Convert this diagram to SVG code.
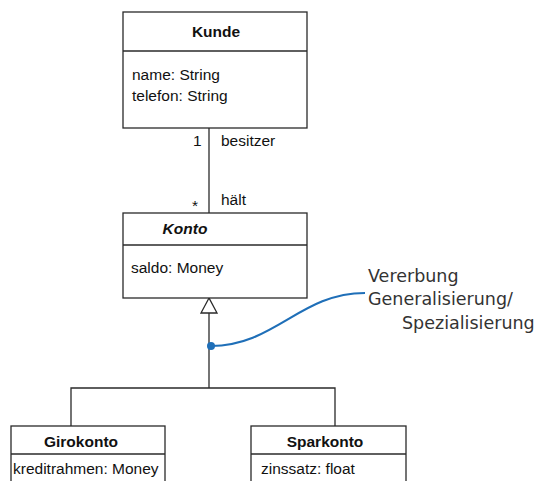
<svg xmlns="http://www.w3.org/2000/svg" width="539" height="481" viewBox="0 0 539 481">
  <style>
    .box { fill: #fff; stroke: #2a2a2a; stroke-width: 1.3; }
    .sep { stroke: #2a2a2a; stroke-width: 1.3; }
    .line { fill: none; stroke: #2a2a2a; stroke-width: 1.3; }
    .title { font-family: "Liberation Sans", Arial, sans-serif; font-size: 15.5px; font-weight: bold; fill: #111; text-anchor: middle; }
    .attr { font-family: "Liberation Sans", Arial, sans-serif; font-size: 15.5px; fill: #111; }
    .role { font-family: "Liberation Sans", Arial, sans-serif; font-size: 15.5px; fill: #111; }
    .note { font-family: "DejaVu Sans", sans-serif; font-size: 17.5px; fill: #333; }
  </style>

  <rect width="539" height="481" fill="#fff"/>

  <!-- connectors -->
  <g id="connectors">
    <!-- association Kunde - Konto -->
    <line class="line" x1="209" y1="128" x2="209" y2="213"/>
    <text class="role" x="193" y="146">1</text>
    <text class="role" x="221" y="146">besitzer</text>
    <text class="role" x="192" y="211">*</text>
    <text class="role" x="221" y="205">hält</text>
    <!-- generalization tree -->
    <polyline class="line" points="71,426 71,388 335,388 335,426"/>
    <line class="line" x1="209" y1="388" x2="209" y2="313"/>
    <polygon class="box" points="209,298 201,313 217,313"/>
  </g>

  <g id="Kunde">
    <rect class="box" x="123" y="12" width="184" height="116"/>
    <line class="sep" x1="123" y1="51" x2="307" y2="51"/>
    <text class="title" x="216" y="37">Kunde</text>
    <text class="attr" x="132" y="80">name: String</text>
    <text class="attr" x="132" y="101">telefon: String</text>
  </g>

  <g id="Konto">
    <rect class="box" x="123" y="213" width="184" height="85"/>
    <line class="sep" x1="123" y1="245" x2="307" y2="245"/>
    <text class="title" x="185" y="234" font-style="italic">Konto</text>
    <text class="attr" x="131" y="273">saldo: Money</text>
  </g>

  <g id="Girokonto">
    <rect class="box" x="11" y="426" width="154" height="60"/>
    <line class="sep" x1="11" y1="454" x2="165" y2="454"/>
    <text class="title" x="81" y="447">Girokonto</text>
    <text class="attr" x="13" y="474">kreditrahmen: Money</text>
  </g>

  <g id="Sparkonto">
    <rect class="box" x="251" y="426" width="155" height="60"/>
    <line class="sep" x1="251" y1="454" x2="406" y2="454"/>
    <text class="title" x="325" y="447">Sparkonto</text>
    <text class="attr" x="261" y="474">zinssatz: float</text>
  </g>

  <!-- annotation -->
  <g id="annotation">
    <path d="M211,346 C275,346 300,293 365,293" fill="none" stroke="#1f6fb8" stroke-width="2.2"/>
    <circle cx="211" cy="346" r="4" fill="#1f6fb8"/>
    <text class="note" x="368" y="282">Vererbung</text>
    <text class="note" x="368" y="305">Generalisierung/</text>
    <text class="note" x="402" y="329">Spezialisierung</text>
  </g>
</svg>
